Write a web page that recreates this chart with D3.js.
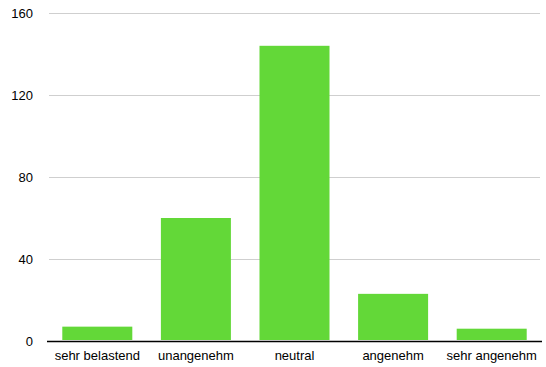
<!DOCTYPE html>
<html>
<head>
<meta charset="utf-8">
<script src="https://cdn.jsdelivr.net/npm/d3@7"></script>
<style>
  body { margin: 0; background: #fff; }
  text { font-family: "Liberation Sans", Arial, Helvetica, sans-serif; font-size: 13px; fill: #000; }
</style>
</head>
<body>
<div id="svg-container"></div>
<script>
// Chart data.
const categories = ['sehr belastend', 'unangenehm', 'neutral', 'angenehm', 'sehr angenehm'];
const counts = [7, 60, 144, 23, 6];
const yTicks = [0, 40, 80, 120, 160];

const width = 546;
const height = 367;

const plot = {
  left: 48,
  right: 541,
  top: 13,
  bottom: 341
};

const svg = d3.select('div#svg-container')
  .append('svg')
  .attr('width', width)
  .attr('height', height);

// Scales.
const xScale = d3.scaleBand()
  .domain(categories)
  .range([plot.left, plot.right])
  .paddingInner(0.29)
  .paddingOuter(0.145);

const yScale = d3.scaleLinear()
  .domain([0, 160])
  .range([plot.bottom, plot.top]);

// Gridlines (skip the zero line, drawn as the axis below).
svg.append('g')
  .selectAll('line')
  .data(yTicks.filter((d) => d > 0))
  .enter()
  .append('line')
  .attr('x1', plot.left + 1)
  .attr('x2', plot.right - 1)
  .attr('y1', (d) => Math.round(yScale(d)) + 0.5)
  .attr('y2', (d) => Math.round(yScale(d)) + 0.5)
  .attr('stroke', '#cfcfcf')
  .attr('stroke-width', 1);

// Y tick labels.
svg.append('g')
  .selectAll('text')
  .data(yTicks)
  .enter()
  .append('text')
  .attr('x', 33)
  .attr('y', (d) => yScale(d))
  .attr('dy', '0.35em')
  .attr('text-anchor', 'end')
  .text((d) => d);

// Bars.
svg.append('g')
  .selectAll('rect')
  .data(counts)
  .enter()
  .append('rect')
  .attr('x', (d, i) => xScale(categories[i]))
  .attr('y', (d) => yScale(d))
  .attr('width', xScale.bandwidth())
  .attr('height', (d) => yScale(0) - 1 - yScale(d))
  .attr('fill', '#63d838');

// X axis.
const xAxis = d3.axisBottom(xScale).tickSize(0).tickPadding(10);

const gx = svg.append('g')
  .attr('transform', `translate(0, ${plot.bottom})`)
  .call(xAxis);

gx.select('.domain').remove();
gx.selectAll('text')
  .attr('font-family', null)
  .attr('font-size', null)
  .attr('fill', '#000');

svg.append('line')
  .attr('x1', plot.left - 1)
  .attr('x2', plot.right + 1)
  .attr('y1', plot.bottom + 0.5)
  .attr('y2', plot.bottom + 0.5)
  .attr('stroke', '#000')
  .attr('stroke-width', 1.5);
</script>
</body>
</html>
